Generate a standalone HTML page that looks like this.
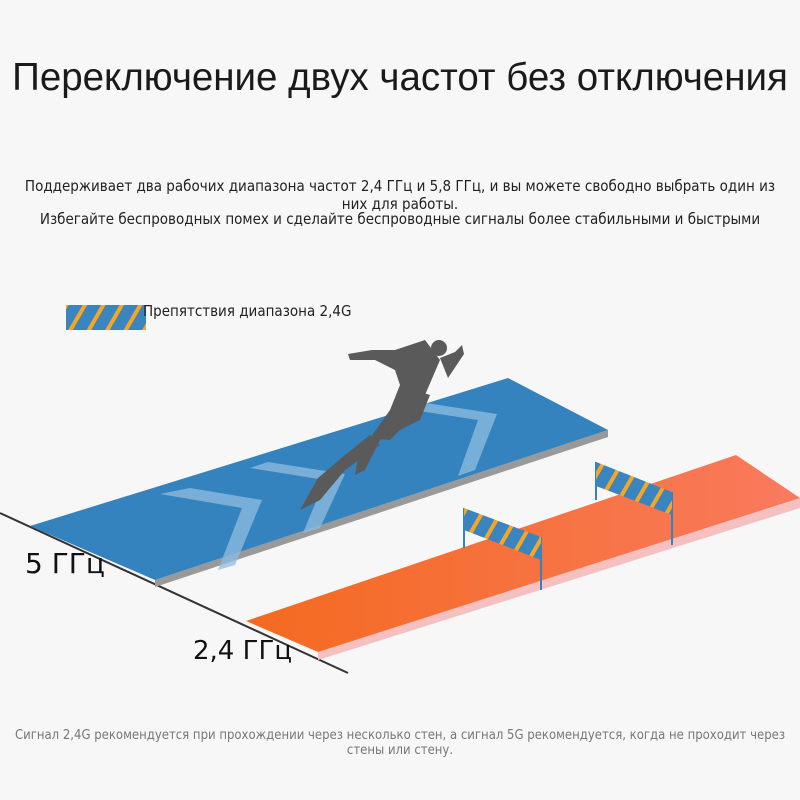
<!DOCTYPE html>
<html><head><meta charset="utf-8"><style>
body{margin:0;width:800px;height:800px;background:#f7f7f7;overflow:hidden;position:relative;font-family:"DejaVu Sans Condensed","Liberation Sans Narrow","Liberation Sans",sans-serif;color:#222}
.t{position:absolute;left:0;width:800px;text-align:center}
</style></head><body>
<div class="t" style="top:56px;font-size:38.5px;white-space:nowrap;font-family:'Liberation Sans',sans-serif;color:#1a1a1a">Переключение двух частот без отключения</div>
<div class="t" style="top:177px;font-size:15px;line-height:18px;padding:0 14px;box-sizing:border-box">Поддерживает два рабочих диапазона частот 2,4 ГГц и 5,8 ГГц, и вы можете свободно выбрать один из них для работы.</div>
<div class="t" style="top:210px;font-size:15px;white-space:nowrap">Избегайте беспроводных помех и сделайте беспроводные сигналы более стабильными и быстрыми</div>
<div class="t" style="top:728px;font-size:13px;line-height:15px;color:#777;padding:0 4px;box-sizing:border-box">Сигнал 2,4G рекомендуется при прохождении через несколько стен, а сигнал 5G рекомендуется, когда не проходит через стены или стену.</div>
<svg width="800" height="800" style="position:absolute;left:0;top:0">
<defs>
<pattern id="st" patternUnits="userSpaceOnUse" width="16" height="16" patternTransform="rotate(30)">
<rect width="16" height="16" fill="#3a84c0"/><rect width="4" height="16" fill="#f5a623"/></pattern>
<linearGradient id="og" x1="0" x2="1"><stop offset="0" stop-color="#f46a1f"/><stop offset="1" stop-color="#f97a5e"/></linearGradient>
</defs>
<rect x="66" y="305" width="80" height="25" fill="url(#st)"/>
<text x="143" y="316" font-size="15" font-family="DejaVu Sans Condensed,Liberation Sans,sans-serif" fill="#222">Препятствия диапазона 2,4G</text>
<line x1="0" y1="513" x2="348" y2="673" stroke="#333" stroke-width="2"/>
<polygon points="155,580 608,430 608,437 155,587" fill="#999"/>
<polygon points="30,526 155,580 608,430 508,378" fill="#3583be"/>
<g fill="#8fbde0" opacity="0.75">
<polygon points="190,488 262,500 235,565 218,570 242,508 160,494"/>
<polygon points="268,462 345,474 320,528 303,533 325,480 250,468"/>
<polygon points="420,402 497,414 475,470 458,476 478,420 400,408"/>
</g>
<polygon points="318,652 800,498 800,508 318,660" fill="#f4c0c0"/>
<polygon points="246,621 318,652 800,498 736,455" fill="url(#og)"/>
<g stroke="#3583be" stroke-width="2">
<line x1="464" y1="508" x2="464" y2="548"/><line x1="541" y1="537" x2="541" y2="590"/>
<line x1="596" y1="462" x2="596" y2="500"/><line x1="672" y1="492" x2="672" y2="545"/></g>
<polygon points="464,508 541,537 541,560 464,530" fill="url(#st)"/>
<polygon points="596,462 672,492 672,515 596,486" fill="url(#st)"/>
<g fill="#5a5a5a">
<circle cx="439" cy="348" r="8"/>
<polygon points="425,340 440,360 425,395 405,425 390,440 370,438 390,410 400,385 395,370 375,360 350,360 348,354 372,350 395,350"/>
<polygon points="415,390 430,395 420,420 380,440 365,470 355,475 360,445 395,420"/>
<polygon points="370,435 380,445 345,470 320,500 300,510 318,478 345,455"/>
<polygon points="440,358 455,352 462,345 464,354 448,378"/>
</g>
<text x="25" y="573" font-size="28" font-family="DejaVu Sans,Liberation Sans,sans-serif" fill="#111">5 ГГц</text>
<text x="193" y="659" font-size="26" font-family="DejaVu Sans,Liberation Sans,sans-serif" fill="#111">2,4 ГГц</text>
</svg>
</body></html>
